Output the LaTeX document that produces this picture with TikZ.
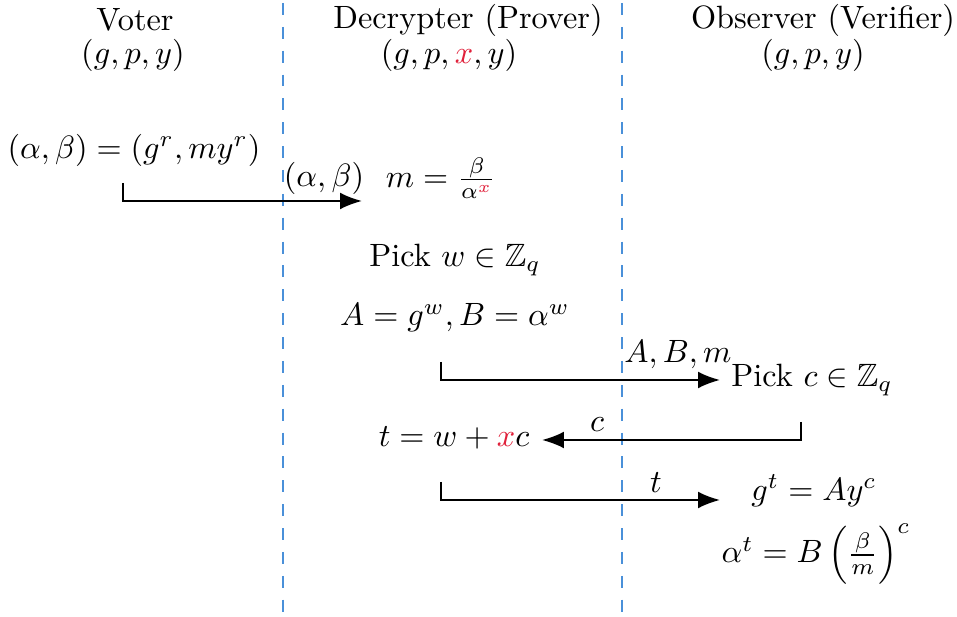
\documentclass[tikz,border=0pt]{standalone}
\usepackage{amsmath,amssymb}
\usetikzlibrary{arrows.meta}
\definecolor{divblue}{HTML}{4A90D9}
\definecolor{secred}{HTML}{E0203A}
\begin{document}
\begin{tikzpicture}[x=0.31pt,y=-0.31pt,
  lane/.style={draw=divblue,line width=0.5pt,dash pattern=on 3.7pt off 3.7pt,dash phase=-0.9pt},
  msg/.style={draw,line width=0.65pt,-{Latex[length=6.8pt,width=5.2pt]}},
  lbl/.style={inner sep=0pt}]
\useasboundingbox (0,0) rectangle (957,617);
\coordinate (l1t) at (283,0); \coordinate (l1b) at (283,612);
\coordinate (l2t) at (622,0); \coordinate (l2b) at (622,612);
\draw[lane] (l1t) -- (l1b);
\draw[lane] (l2t) -- (l2b);
% headers
\node[lbl] (voter) at (135,20) {Voter};
\node[lbl] (voterk) at (133,55) {$(g,p,y)$};
\node[lbl] (dec) at (468,20) {Decrypter (Prover)};
\node[lbl] (deck) at (449,55) {$(g,p,\textcolor{secred}{x},y)$};
\node[lbl] (obs) at (823,20) {Observer (Verifier)};
\node[lbl] (obsk) at (813,55) {$(g,p,y)$};
% voter encrypts
\node[lbl] (enc) at (134,150) {$(\alpha,\beta)=(g^r,my^r)$};
\coordinate (a1s) at (123,183);
\coordinate (a1c) at (123,201);
\coordinate (a1e) at (362,201);
\draw[msg] (a1s) -- (a1c) -- (a1e);
\node[lbl] (a1l) at (324,178) {$(\alpha,\beta)$};
\node[lbl] (mdec) at (441,178) {$m=\frac{\beta}{\alpha^{\textcolor{secred}{x}}}$};
\node[lbl] (pickw) at (455,260) {Pick $w\in\mathbb{Z}_q$};
\node[lbl] (AB) at (455,318) {$A=g^w,B=\alpha^w$};
% commit
\coordinate (a2s) at (441,362);
\coordinate (a2c) at (441,380);
\coordinate (a2e) at (720,380);
\draw[msg] (a2s) -- (a2c) -- (a2e);
\node[lbl] (a2l) at (678,355) {$A,B,m$};
\node[lbl] (pickc) at (812,380) {Pick $c\in\mathbb{Z}_q$};
% challenge
\coordinate (a3s) at (801,422);
\coordinate (a3c) at (801,440);
\coordinate (a3e) at (542,440);
\draw[msg] (a3s) -- (a3c) -- (a3e);
\node[lbl] (a3l) at (597,425) {$c$};
\node[lbl] (tres) at (454,438) {$t=w+\textcolor{secred}{x}c$};
% response
\coordinate (a4s) at (441,482);
\coordinate (a4c) at (441,500);
\coordinate (a4e) at (720,500);
\draw[msg] (a4s) -- (a4c) -- (a4e);
\node[lbl] (a4l) at (656,483) {$t$};
\node[lbl] (ver1) at (814,491) {$g^t=Ay^c$};
\node[lbl] (ver2) at (816,554) {$\alpha^t=B\left(\frac{\beta}{m}\right)^c$};
\end{tikzpicture}
\end{document}
